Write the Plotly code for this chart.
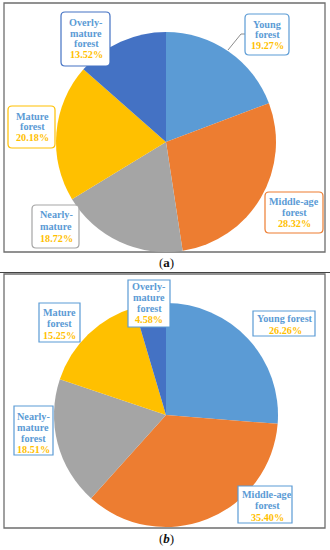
import plotly.graph_objects as go

# ---- data ----
categories = ["Young forest", "Middle-age forest", "Nearly-mature forest", "Mature forest", "Overly-mature forest"]
values_a = [19.27, 28.32, 18.72, 20.18, 13.52]
values_b = [26.26, 35.40, 18.51, 15.25, 4.58]
colors = ["#5B9BD5", "#ED7D31", "#A5A5A5", "#FFC000", "#4472C4"]
names_a = [["Young", "forest"], ["Middle-age", "forest"], ["Nearly-", "mature"], ["Mature", "forest"], ["Overly-", "mature", "forest"]]
names_b = [["Young forest"], ["Middle-age", "forest"], ["Nearly-", "mature", "forest"], ["Mature", "forest"], ["Overly-", "mature", "forest"]]

W, H = 330, 550
def px(x): return x / W
def py(y): return 1 - y / H

# label box layouts (pixel): box x0,y0,x1,y1, text center x, first line y, line step
lay_a = [
    (245, 14, 289, 55, 267, 24, 11),
    (265, 192, 323, 233, 294, 202, 11),
    (32, 205, 79, 248, 56, 215, 11.5),
    (8, 106, 55, 148, 32, 116, 10.8),
    (61, 12, 110, 66, 86, 22, 11),
]
lay_b = [
    (253, 311, 315, 336, 285, 318, 12),
    (238, 486, 292, 523, 267, 494, 11.5),
    (14, 406, 53, 455, 33, 416, 11),
    (39, 303, 80, 342, 59, 312, 11.5),
    (128, 280, 170, 327, 149, 286, 11.3),
]

fig = go.Figure()

def add_pie(vals, cx, cy, r):
    fig.add_trace(go.Pie(
        labels=categories, values=vals, sort=False, direction="clockwise", rotation=0,
        marker=dict(colors=colors, line=dict(width=0)), textinfo="none", hoverinfo="label+percent",
        showlegend=False,
        domain=dict(x=[px(cx - r), px(cx + r)], y=[py(cy + r), py(cy - r)]),
    ))

add_pie(values_a, 166, 142, 110)
add_pie(values_b, 166, 415, 112)

shapes = []
annotations = []

def rounded(x0, y0, x1, y1, r):
    pts = (f"M {px(x0+r)},{py(y0)} L {px(x1-r)},{py(y0)} Q {px(x1)},{py(y0)} {px(x1)},{py(y0+r)} "
           f"L {px(x1)},{py(y1-r)} Q {px(x1)},{py(y1)} {px(x1-r)},{py(y1)} "
           f"L {px(x0+r)},{py(y1)} Q {px(x0)},{py(y1)} {px(x0)},{py(y1-r)} "
           f"L {px(x0)},{py(y0+r)} Q {px(x0)},{py(y0)} {px(x0+r)},{py(y0)} Z")
    return pts

# frames
frame_col = "#6E6E6E"
shapes.append(dict(type="rect", xref="paper", yref="paper", x0=px(4), x1=px(325), y0=py(252), y1=py(3),
                   line=dict(color=frame_col, width=1.3), layer="below"))
shapes.append(dict(type="rect", xref="paper", yref="paper", x0=px(4), x1=px(325), y0=py(528), y1=py(274),
                   line=dict(color=frame_col, width=1.3), layer="below"))
shapes.append(dict(type="line", xref="paper", yref="paper", x0=0, x1=1, y0=py(272.5), y1=py(272.5),
                   line=dict(color="#444444", width=1)))

# leader line for Young forest (a)
shapes.append(dict(type="path", xref="paper", yref="paper",
                   path=f"M {px(245)},{py(34)} L {px(241)},{py(34)} L {px(228)},{py(50)}",
                   line=dict(color="#8C8C8C", width=1)))

name_col = "#5B9BD5"
pct_col = "#FFC000"
font_fam = "Liberation Serif"

def add_labels(names, vals, lays, border_cols, round_r):
    for nm, v, (x0, y0, x1, y1, tx, ty, step), bc in zip(names, vals, lays, border_cols):
        if round_r > 0:
            shapes.append(dict(type="path", xref="paper", yref="paper", path=rounded(x0, y0, x1, y1, round_r),
                               fillcolor="white", line=dict(color=bc, width=1.2)))
        else:
            shapes.append(dict(type="rect", xref="paper", yref="paper", x0=px(x0), x1=px(x1), y0=py(y1), y1=py(y0),
                               fillcolor="white", line=dict(color=bc, width=1.2)))
        lines = nm + [f"{v:.2f}%"]
        for i, t in enumerate(lines):
            c = pct_col if i == len(lines) - 1 else name_col
            annotations.append(dict(xref="paper", yref="paper", x=px(tx), y=py(ty + i * step),
                                    xanchor="center", yanchor="middle", showarrow=False,
                                    text=f"<b>{t}</b>", font=dict(family=font_fam, size=10.2, color=c)))

add_labels(names_a, values_a, lay_a, colors, 4)
add_labels(names_b, values_b, lay_b, ["#5B9BD5"] * 5, 0)

annotations.append(dict(xref="paper", yref="paper", x=px(166), y=py(262), xanchor="center", yanchor="middle",
                        showarrow=False, text="(<b>a</b>)", font=dict(family=font_fam, size=13, color="#111111")))
annotations.append(dict(xref="paper", yref="paper", x=px(166), y=py(538), xanchor="center", yanchor="middle",
                        showarrow=False, text="(<b><i>b</i></b>)", font=dict(family=font_fam, size=13, color="#111111")))

fig.update_layout(width=W, height=H, margin=dict(l=0, r=0, t=0, b=0),
                  paper_bgcolor="white", plot_bgcolor="white",
                  shapes=shapes, annotations=annotations)

fig.write_html("out.html", config={"displayModeBar": False},
               post_script="document.body.style.margin='0';document.body.style.overflow='hidden';")
